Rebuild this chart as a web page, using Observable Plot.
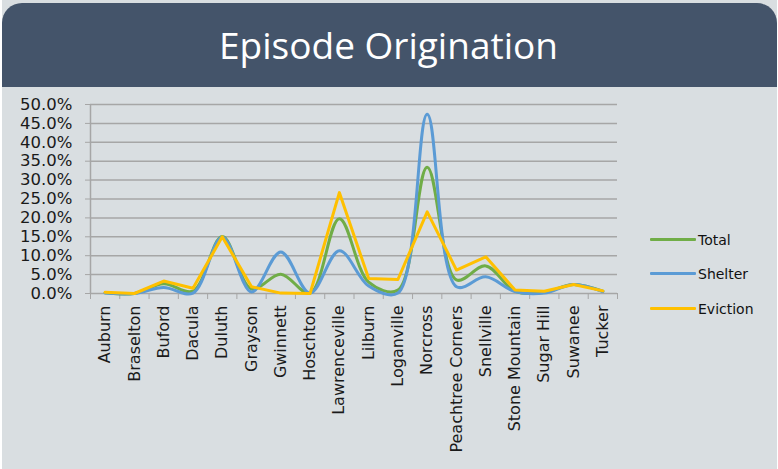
<!DOCTYPE html>
<html>
<head>
<meta charset="utf-8">
<script src="https://cdn.jsdelivr.net/npm/d3@7"></script>
<script src="https://cdn.jsdelivr.net/npm/@observablehq/plot@0.6"></script>
<style>
  html, body { margin: 0; padding: 0; background: #ffffff; }
  #page { position: relative; width: 778px; height: 469px; overflow: hidden; }
  #panel { position: absolute; left: 2px; top: 0; width: 775px; height: 469px; background: #d9dee1; }
  #header { position: absolute; left: 2px; top: 3px; width: 775px; height: 84px; background: #44546a;
            border-radius: 20px 20px 0 0; color: #ffffff; font-family: "Open Sans", sans-serif;
            font-size: 37px; text-align: center; line-height: 84px; box-sizing: border-box; padding-right: 2px; }
  #chart { position: absolute; left: 0; top: 87px; }
  #legend { position: absolute; left: 650px; top: 0; font-family: "DejaVu Sans", sans-serif; font-size: 14px; color: #111; }
  .item { position: absolute; left: 0; width: 120px; height: 20px; }
  .swatch { position: absolute; left: 0; top: 8px; width: 46px; height: 3px; border-radius: 1px; }
  .lab { position: absolute; left: 48px; top: 0; line-height: 20px; white-space: nowrap; }
</style>
</head>
<body>
<div id="page">
  <div id="panel"></div>
  <div id="header">Episode Origination</div>
  <div id="chart"></div>
  <div id="legend"></div>
</div>
<script>
const cities = ["Auburn", "Braselton", "Buford", "Dacula", "Duluth", "Grayson", "Gwinnett", "Hoschton",
  "Lawrenceville", "Lilburn", "Loganville", "Norcross", "Peachtree Corners", "Snellville",
  "Stone Mountain", "Sugar Hill", "Suwanee", "Tucker"];
const total    = [0.002, 0.000, 0.026, 0.006, 0.151, 0.012, 0.051, 0.001, 0.198, 0.030, 0.009, 0.334, 0.036, 0.073, 0.006, 0.003, 0.024, 0.006];
const shelter  = [0.001, 0.000, 0.016, 0.001, 0.149, 0.004, 0.110, 0.001, 0.113, 0.020, 0.001, 0.474, 0.018, 0.044, 0.005, 0.001, 0.024, 0.005];
const eviction = [0.003, 0.000, 0.033, 0.014, 0.150, 0.018, 0.001, 0.000, 0.267, 0.040, 0.037, 0.216, 0.062, 0.097, 0.009, 0.006, 0.024, 0.007];
const yTicks = [0, 0.05, 0.10, 0.15, 0.20, 0.25, 0.30, 0.35, 0.40, 0.45, 0.50];
const seriesNames = ["Total", "Shelter", "Eviction"];
const seriesColors = ["#70ad47", "#5b9bd5", "#ffc000"];

const idx = d3.range(cities.length);
const bounds = d3.range(cities.length + 1).map(k => k - 0.5);
const rows = (vals) => idx.map(i => ({i, v: vals[i]}));

const chart = Plot.plot({
  width: 778,
  height: 382,
  marginLeft: 90,
  marginRight: 161,
  marginTop: 17,
  marginBottom: 176,
  style: {background: "transparent", overflow: "visible"},
  x: {type: "linear", domain: [-0.5, cities.length - 0.5]},
  y: {domain: [0, 0.5]},
  marks: [
    Plot.gridY(yTicks, {stroke: "#a6a6a6", strokeOpacity: 1, strokeWidth: 1.5}),
    Plot.axisY(yTicks, {tickSize: 5, tickPadding: 13, tickFormat: d3.format(".1%"), stroke: "#a6a6a6",
      fontSize: 16.5, fill: "#1a1a1a", fontFamily: "DejaVu Sans", label: null}),
    Plot.ruleX([-0.5], {stroke: "#a6a6a6", strokeWidth: 1.5}),
    Plot.axisX(bounds, {tickSize: 6, tickFormat: () => "", stroke: "#a6a6a6", label: null}),
    Plot.axisX(idx, {tickSize: 0, tickPadding: 12, tickRotate: -90, tickFormat: i => cities[i],
      fontSize: 16, fill: "#1a1a1a", fontFamily: "DejaVu Sans", label: null}),
    Plot.line(rows(total), {x: "i", y: "v", stroke: seriesColors[0], strokeWidth: 3, curve: "catmull-rom"}),
    Plot.line(rows(shelter), {x: "i", y: "v", stroke: seriesColors[1], strokeWidth: 3, curve: "catmull-rom"}),
    Plot.line(rows(eviction), {x: "i", y: "v", stroke: seriesColors[2], strokeWidth: 3, curve: "linear", strokeLinejoin: "round"})
  ]
});
document.getElementById("chart").appendChild(chart);

const legend = document.getElementById("legend");
const legendTops = [230, 264, 299];
seriesNames.forEach((name, k) => {
  const it = document.createElement("div");
  it.className = "item";
  it.style.top = legendTops[k] + "px";
  it.innerHTML = `<div class="swatch" style="background:${seriesColors[k]}"></div><div class="lab">${name}</div>`;
  legend.appendChild(it);
});
</script>
</body>
</html>
